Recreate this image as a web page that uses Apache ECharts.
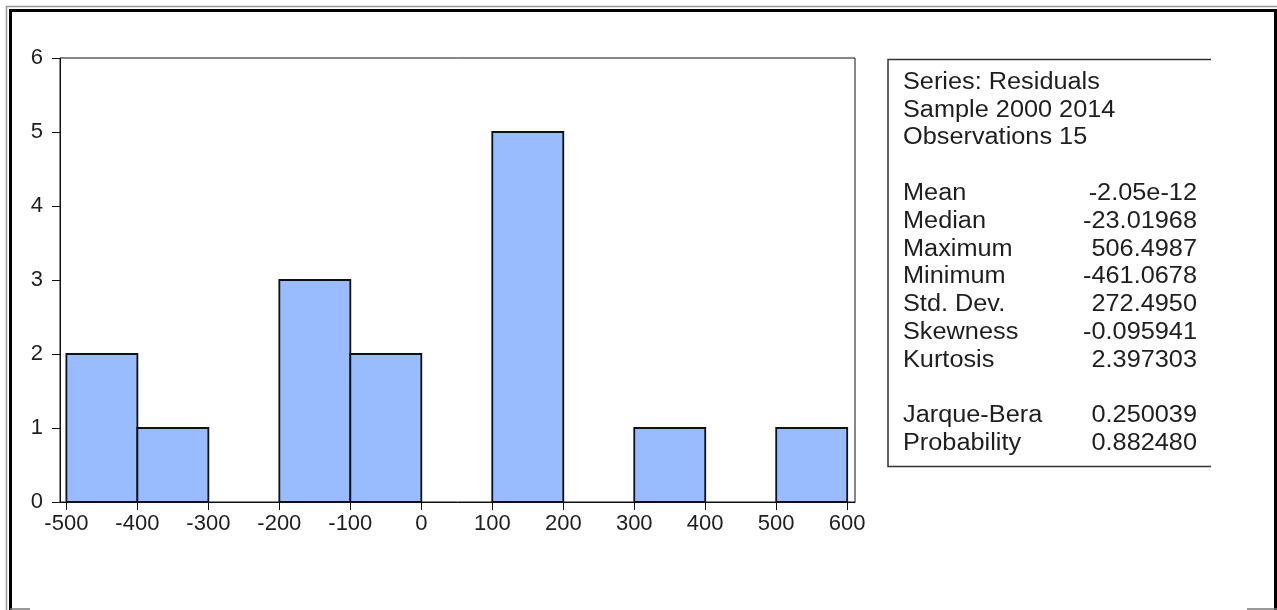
<!DOCTYPE html>
<html>
<head>
<meta charset="utf-8">
<script src="https://cdn.jsdelivr.net/npm/echarts@6/dist/echarts.min.js"></script>
<style>
  html, body { margin: 0; padding: 0; background: #fff; }
  #main { width: 1277px; height: 610px; }
</style>
</head>
<body>
<div id="main"></div>
<script>
// histogram bins of the residuals
var binEdges = [-500, -400, -300, -200, -100, 0, 100, 200, 300, 400, 500, 600];
var counts = [2, 1, 0, 3, 2, 0, 5, 0, 1, 0, 1];
var xTicks = [-500, -400, -300, -200, -100, 0, 100, 200, 300, 400, 500, 600];

// stats box text
var headerLines = ['Series: Residuals', 'Sample 2000 2014', 'Observations 15'];
var statNames = ['Mean', 'Median', 'Maximum', 'Minimum', 'Std. Dev.', 'Skewness', 'Kurtosis'];
var statValues = ['-2.05e-12', '-23.01968', '506.4987', '-461.0678', '272.4950', '-0.095941', '2.397303'];
var testNames = ['Jarque-Bera', 'Probability'];
var testValues = ['0.250039', '0.882480'];

var chart = echarts.init(document.getElementById('main'));

var bins = [];
for (var i = 0; i < counts.length; i++) {
    if (counts[i] > 0) bins.push([binEdges[i], binEdges[i + 1], counts[i]]);
}

var FONT = 'Liberation Sans';
var txtColor = '#1e1e1e';

// text for the stats box
var graphics = [];
var lineY = function (i) { return 82.5 + 27.8 * i; };
function addText(str, x, y, align) {
    graphics.push({
        type: 'text', x: x, y: y, scaleX: 1.1, scaleY: 1,
        style: {text: str, fill: txtColor, font: '23px "' + FONT + '"', textAlign: align, textVerticalAlign: 'middle'}
    });
}
headerLines.forEach(function (s, i) { addText(s, 903, lineY(i), 'left'); });
statNames.forEach(function (s, i) {
    addText(s, 903, lineY(i + 4), 'left');
    addText(statValues[i], 1197, lineY(i + 4), 'right');
});
testNames.forEach(function (s, i) {
    addText(s, 903, lineY(i + 12), 'left');
    addText(testValues[i], 1197, lineY(i + 12), 'right');
});
// box round the stats (no right side)
graphics.push({
    type: 'polyline',
    shape: {points: [[1211, 59.5], [888, 59.5], [888, 466.5], [1211, 466.5]]},
    style: {stroke: '#333', lineWidth: 1.5, fill: null}
});
// outer frame
graphics.push({
    type: 'polyline',
    shape: {points: [[6.5, 610], [6.5, 6.5], [1277, 6.5]]},
    style: {stroke: '#999', lineWidth: 1.5, fill: null}
});
graphics.push({
    type: 'polyline',
    shape: {points: [[10.5, 610], [10.5, 10.5], [1275.5, 10.5], [1275.5, 610]]},
    style: {stroke: '#000', lineWidth: 3, fill: null}
});
graphics.push({type: 'line', shape: {x1: 10, y1: 609, x2: 30, y2: 609}, style: {stroke: '#777', lineWidth: 1.5}});
graphics.push({type: 'line', shape: {x1: 1247, y1: 609, x2: 1277, y2: 609}, style: {stroke: '#777', lineWidth: 1.5}});

var option = {
    animation: false,
    backgroundColor: '#fff',
    grid: {left: 60, top: 58, right: 422, bottom: 108, show: true, borderColor: '#111', borderWidth: 1},
    xAxis: {
        type: 'value', min: -509, max: 611,
        splitLine: {show: false},
        axisLine: {onZero: false, lineStyle: {color: '#111', width: 1}},
        axisTick: {show: true, length: 8, customValues: xTicks, lineStyle: {color: '#111'}},
        axisLabel: {customValues: xTicks, margin: 11, fontSize: 22, fontFamily: FONT, color: txtColor}
    },
    yAxis: {
        type: 'value', min: 0, max: 6, interval: 1,
        splitLine: {show: false},
        axisLine: {show: true, onZero: false, lineStyle: {color: '#111', width: 1}},
        axisTick: {show: true, length: 8, lineStyle: {color: '#111'}},
        axisLabel: {margin: 17, fontSize: 22, fontFamily: FONT, color: txtColor}
    },
    series: [{
        type: 'custom',
        data: bins,
        encode: {x: [0, 1], y: 2},
        renderItem: function (params, api) {
            var p0 = api.coord([api.value(0), api.value(2)]);
            var p1 = api.coord([api.value(1), 0]);
            return {
                type: 'rect',
                shape: {x: p0[0], y: p0[1], width: p1[0] - p0[0], height: p1[1] - p0[1]},
                style: {fill: '#99BBFF', stroke: '#111', lineWidth: 1.8}
            };
        }
    }],
    graphic: graphics
};

setTimeout(function () {
    chart.setOption(option);
}, 30);
</script>
</body>
</html>
